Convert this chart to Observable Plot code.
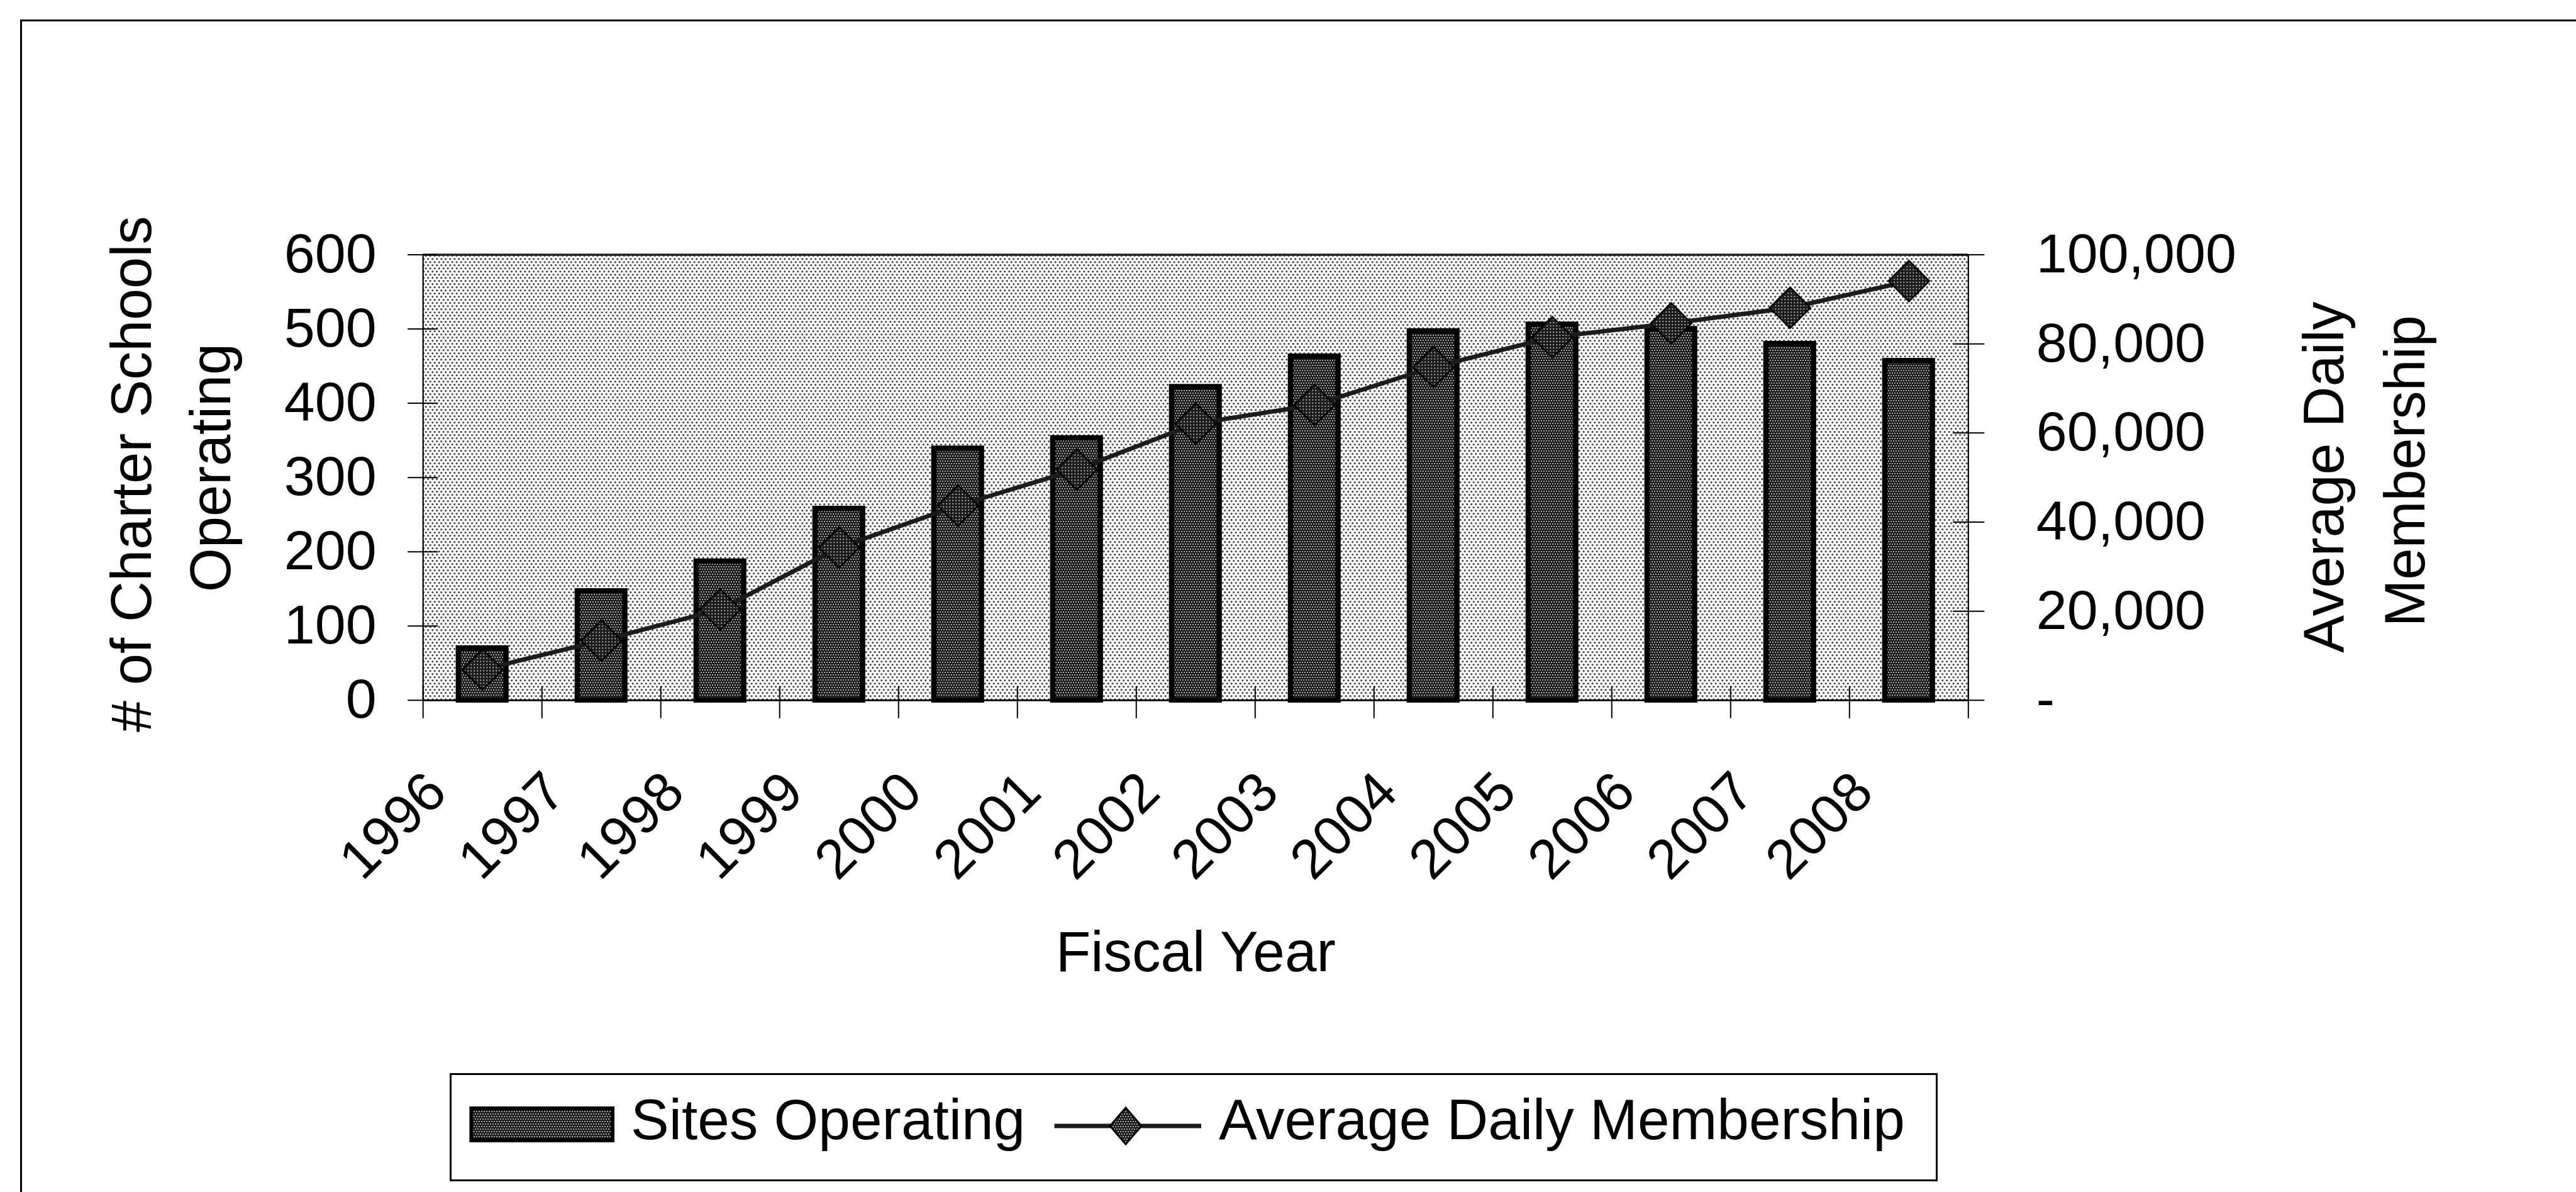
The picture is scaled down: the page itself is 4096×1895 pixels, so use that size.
<!DOCTYPE html>
<html>
<head>
<meta charset="utf-8">
<script src="https://cdn.jsdelivr.net/npm/d3@7"></script>
<script src="https://cdn.jsdelivr.net/npm/@observablehq/plot@0.6"></script>
<style>
  html, body { margin: 0; padding: 0; background: #fff; }
  #wrap { position: relative; width: 4096px; height: 1895px; overflow: hidden; font-family: "Liberation Sans", Arial, sans-serif; }
  #chart svg { display: block; }
  #frameline { position: absolute; left: 32.2px; top: 30.7px; width: 5000px; height: 3000px; border-left: 3px solid #000; border-top: 3px solid #000; pointer-events: none; }
  #legend { position: absolute; left: 715px; top: 1706px; }
</style>
</head>
<body>
<div id="wrap">
  <div id="chart"></div>
  <div id="frameline"></div>
  <div id="legend"></div>
</div>
<script>
// ---- data ----
const years = ["1996","1997","1998","1999","2000","2001","2002","2003","2004","2005","2006","2007","2008"];
const sitesOperating = [70, 147, 187, 258, 339, 353, 422, 463, 497, 506, 500, 480, 457];
const avgDailyMembership = [6900, 13400, 20400, 34300, 43700, 51800, 62100, 66300, 74800, 81500, 84600, 88100, 94100];
const leftTicks = [0, 100, 200, 300, 400, 500, 600];
const rightTicks = [0, 20000, 40000, 60000, 80000, 100000];
const leftMax = 600, rightMax = 100000;
const seriesNames = ["Sites Operating", "Average Daily Membership"];
const xTitle = "Fiscal Year";
const yTitleLeft = ["# of Charter Schools", "Operating"];
const yTitleRight = ["Average Daily", "Membership"];

// table for the library (membership mapped onto left axis units for the dual axis)
const table = years.map((y, i) => ({
  year: y,
  sites: sitesOperating[i],
  adm: avgDailyMembership[i],
  admY: avgDailyMembership[i] * leftMax / rightMax
}));
const toLeft = v => v * leftMax / rightMax;

// ---- layout (already scaled to 0.977) ----
const W = 4096, H = 1660;
const fl = 672.2, fr = 3129.3, ft = 404.5, fb = 1112.8;
const step = (fr - fl) / years.length;
const midY = (ft + fb) / 2;
const FONT = "Liberation Sans, Arial, sans-serif";

const plot = Plot.plot({
  width: W,
  height: H,
  marginLeft: fl,
  marginRight: W - fr,
  marginTop: ft,
  marginBottom: H - fb,
  style: { fontFamily: FONT, fontSize: "88px", color: "#000", background: "transparent", overflow: "visible" },
  x: { type: "band", domain: years, paddingInner: 0.6, paddingOuter: 0.3, round: false, axis: null },
  y: { domain: [0, leftMax], axis: null },
  marks: [
    Plot.frame({ fill: "url(#bgdots)", stroke: "none" }),
    Plot.barY(table, { x: "year", y: "sites", fill: "url(#bardots)", stroke: "#000", strokeWidth: 8.5 }),
    Plot.frame({ fill: "none", stroke: "#000", strokeWidth: 2.2 }),
    Plot.ruleY([leftMax], { stroke: "#222", strokeWidth: 3.5 }),
    Plot.ruleY([0], { stroke: "#000", strokeWidth: 2.5 }),
    Plot.line(table, { x: "year", y: "admY", stroke: "#1c1c1c", strokeWidth: 7 }),
    Plot.dot(table, { x: "year", y: "admY", symbol: "diamond2", r: 29, fill: "url(#markdots)", stroke: "#000", strokeWidth: 3 }),

    // left axis: ticks crossing the axis line, labels
    Plot.axisY(leftTicks, { anchor: "left", tickSize: 48, dx: 24, tickFormat: () => "", label: null, strokeWidth: 2 }),
    Plot.axisY(leftTicks, { anchor: "left", tickSize: 0, tickPadding: 74, label: null, fontSize: 88 }),

    // right axis
    Plot.axisY(rightTicks.map(toLeft), { anchor: "right", tickSize: 50, dx: -25, tickFormat: () => "", label: null, strokeWidth: 2 }),
    Plot.axisY(rightTicks.map(toLeft), { anchor: "right", tickSize: 0, tickPadding: 108, label: null, fontSize: 88,
      tickFormat: d => d === 0 ? "-" : d3.format(",")(Math.round(d * rightMax / leftMax)) }),

    // x ticks at category boundaries
    Plot.axisX(years, { anchor: "bottom", tickSize: 51, dy: -22, dx: -step / 2, tickFormat: () => "", label: null, strokeWidth: 2 }),
    Plot.axisX([years[years.length - 1]], { anchor: "bottom", tickSize: 51, dy: -22, dx: step / 2, tickFormat: () => "", label: null, strokeWidth: 2 }),

    // rotated x labels
    Plot.text(years, { x: d => d, frameAnchor: "bottom", rotate: -45, textAnchor: "end", lineAnchor: "bottom",
      dx: -52.8, dy: 150.5, fontSize: 88, fill: "#000" }),

    // axis titles
    Plot.text([xTitle], { frameAnchor: "bottom", lineAnchor: "bottom", dy: 430.8, fontSize: 91, fill: "#000" }),
    Plot.text([yTitleLeft[0]], { frameAnchor: "left", rotate: -90, textAnchor: "middle", lineAnchor: "bottom", dx: 239.4 - fl, dy: 753.3 - midY, fontSize: 90, fill: "#000" }),
    Plot.text([yTitleLeft[1]], { frameAnchor: "left", rotate: -90, textAnchor: "middle", lineAnchor: "bottom", dx: 365.4 - fl, dy: 743.0 - midY, fontSize: 90, fill: "#000" }),
    Plot.text([yTitleRight[0]], { frameAnchor: "right", rotate: -90, textAnchor: "middle", lineAnchor: "bottom", dx: 3725.3 - fr, dy: 758.2 - midY, fontSize: 90, fill: "#000" }),
    Plot.text([yTitleRight[1]], { frameAnchor: "right", rotate: -90, textAnchor: "middle", lineAnchor: "bottom", dx: 3854.3 - fr, dy: 748.4 - midY, fontSize: 90, fill: "#000" })
  ]
});

const defs = `
<defs>
  <pattern id="bgdots" patternUnits="userSpaceOnUse" width="7" height="10">
    <rect width="7" height="10" fill="#ffffff"/>
    <rect x="0" y="0" width="2.4" height="2.4" fill="#000"/>
    <rect x="3.5" y="5" width="2.4" height="2.4" fill="#000"/>
  </pattern>
  <pattern id="bardots" patternUnits="userSpaceOnUse" width="4" height="8">
    <rect width="4" height="8" fill="#1a1a1a"/>
    <rect x="0" y="0" width="2" height="2" fill="#a8a8a8"/>
    <rect x="2" y="4" width="2" height="2" fill="#a8a8a8"/>
  </pattern>
  <pattern id="markdots" patternUnits="userSpaceOnUse" width="5" height="5">
    <rect width="5" height="5" fill="#1a1a1a"/>
    <rect x="1" y="1" width="2" height="2" fill="#b0b0b0"/>
  </pattern>
</defs>`;
plot.insertAdjacentHTML("afterbegin", defs);
document.getElementById("chart").appendChild(plot);

// ---- legend (below the chart svg) ----
const LW = 2366, LH = 172;
const legendSvg = `
<svg xmlns="http://www.w3.org/2000/svg" width="${LW}" height="${LH}" style="display:block;font-family:${FONT}">
  <defs>
    <pattern id="lbardots" patternUnits="userSpaceOnUse" width="4" height="8">
      <rect width="4" height="8" fill="#1a1a1a"/>
      <rect x="0" y="0" width="2" height="2" fill="#a8a8a8"/>
      <rect x="2" y="4" width="2" height="2" fill="#a8a8a8"/>
    </pattern>
  </defs>
  <rect x="1.5" y="1.5" width="${LW - 3}" height="${LH - 3}" fill="#fff" stroke="#000" stroke-width="3"/>
  <rect x="34.4" y="56" width="224.6" height="51" fill="url(#lbardots)" stroke="#000" stroke-width="6"/>
  <text x="288" y="105" font-size="91" fill="#000">${seriesNames[0]}</text>
  <line x1="961.5" y1="84" x2="1195" y2="84" stroke="#1c1c1c" stroke-width="7"/>
  <path d="M1075,55 L1100,84 L1075,113 L1050,84 Z" fill="url(#lbardots)" stroke="#000" stroke-width="3"/>
  <text x="1223" y="105" font-size="91" fill="#000">${seriesNames[1]}</text>
</svg>`;
document.getElementById("legend").innerHTML = legendSvg;
</script>
</body>
</html>
